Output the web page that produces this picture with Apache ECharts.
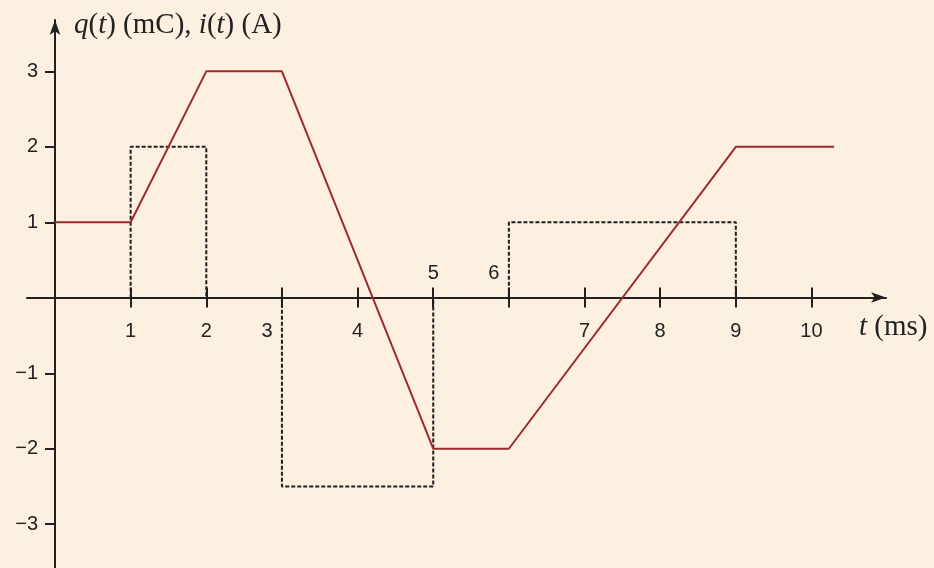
<!DOCTYPE html>
<html>
<head>
<meta charset="utf-8">
<script src="https://cdn.jsdelivr.net/npm/echarts@6/dist/echarts.min.js"></script>
<style>
  html, body { margin: 0; padding: 0; background: #fdf0e1; }
  #chart { width: 934px; height: 568px; }
</style>
</head>
<body>
<div id="chart"></div>
<script>
// q(t) in mC, piecewise linear
var qTime = [0, 1, 2, 3, 5, 6, 9, 10.3];
var qValue = [1, 1, 3, 3, -2, -2, 2, 2];
// i(t) in A, rectangular pulses
var iStart = [1, 3, 6];
var iEnd = [2, 5, 9];
var iLevel = [2, -2.5, 1];
// axis ticks / labels
var xTicks = [1, 2, 3, 4, 5, 6, 7, 8, 9, 10];
var xLabelsBelow = [1, 2, 3, 4, 7, 8, 9, 10];
var xLabelsAbove = [5, 6];
var yTicks = [-3, -2, -1, 1, 2, 3];

var axisColor = '#231f20';
var labelFont = 'Liberation Sans, Arial, sans-serif';
var serif = 'Liberation Serif, Times New Roman, serif';

var qData = qTime.map(function (t, k) { return [t, qValue[k]]; });

var pulseSeries = iStart.map(function (s, k) {
  return {
    type: 'line',
    xAxisIndex: 0,
    yAxisIndex: 0,
    symbol: 'none',
    silent: true,
    lineStyle: { color: '#1e1e1e', width: 2, type: [4, 2] },
    data: [[s, 0], [s, iLevel[k]], [iEnd[k], iLevel[k]], [iEnd[k], 0]],
    z: 2
  };
});

var labelStyle = { fontSize: 20, fontFamily: labelFont, color: '#222' };
var shifted = { fontSize: 20, fontFamily: labelFont, color: '#222', padding: [0, 30, 0, 0] };
var italic = { fontFamily: serif, fontSize: 29, fontStyle: 'italic', color: '#222' };

var option = {
  backgroundColor: '#fdf0e1',
  animation: false,
  title: [
    {
      text: '{i|q}({i|t}) (mC), {i|i}({i|t}) (A)',
      left: 74,
      top: 11,
      padding: 0,
      textStyle: {
        fontFamily: serif, fontSize: 29, fontWeight: 'normal', color: '#222',
        rich: { i: italic }
      }
    },
    {
      text: '{i|t} (ms)',
      left: 859,
      top: 313,
      padding: 0,
      textStyle: {
        fontFamily: serif, fontSize: 29, fontWeight: 'normal', color: '#222',
        rich: { i: italic }
      }
    }
  ],
  grid: { left: 27, right: 48, top: 20, bottom: 0, containLabel: false, outerBoundsMode: 'none' },
  xAxis: [
    {
      type: 'value',
      min: -0.37,
      max: 10.985,
      position: 'bottom',
      offset: -270.5,
      axisLine: {
        show: true, onZero: false,
        symbol: ['none', 'arrow'], symbolSize: [8, 15],
        lineStyle: { color: axisColor, width: 2 }
      },
      axisTick: { show: true, customValues: xTicks, length: 10, lineStyle: { color: axisColor, width: 2 } },
      axisLabel: {
        show: true, customValues: xLabelsBelow, margin: 24,
        fontSize: 20, fontFamily: labelFont, color: '#222',
        formatter: function (v) { return v === 3 ? '{l|3}' : '{n|' + v + '}'; },
        rich: { n: labelStyle, l: shifted }
      },
      splitLine: { show: false }
    },
    {
      type: 'value',
      min: -0.37,
      max: 10.985,
      position: 'top',
      offset: -277.5,
      axisLine: { show: false, onZero: false },
      axisTick: { show: true, customValues: xTicks, length: 10, lineStyle: { color: axisColor, width: 2 } },
      axisLabel: {
        show: true, customValues: xLabelsAbove, margin: 14,
        fontSize: 20, fontFamily: labelFont, color: '#222',
        formatter: function (v) { return v === 6 ? '{l|6}' : '{n|' + v + '}'; },
        rich: { n: labelStyle, l: shifted }
      },
      splitLine: { show: false }
    }
  ],
  yAxis: {
    type: 'value',
    min: -3.58,
    max: 3.68,
    position: 'left',
    offset: -28,
    axisLine: {
      show: true, onZero: false,
      symbol: ['none', 'arrow'], symbolSize: [8, 15],
      lineStyle: { color: axisColor, width: 2 }
    },
    axisTick: { show: true, customValues: yTicks, length: 10, lineStyle: { color: axisColor, width: 2 } },
    axisLabel: {
      show: true, customValues: yTicks, margin: 17,
      fontSize: 20, fontFamily: labelFont, color: '#222',
      formatter: function (v) { return String(v).replace('-', '\u2212'); }
    },
    splitLine: { show: false }
  },
  series: pulseSeries.concat([
    {
      type: 'line',
      xAxisIndex: 0,
      yAxisIndex: 0,
      symbol: 'none',
      silent: true,
      lineStyle: { color: '#9e2a31', width: 2 },
      data: qData,
      z: 3
    }
  ])
};

var chart = echarts.init(document.getElementById('chart'));
chart.setOption(option);
</script>
</body>
</html>
